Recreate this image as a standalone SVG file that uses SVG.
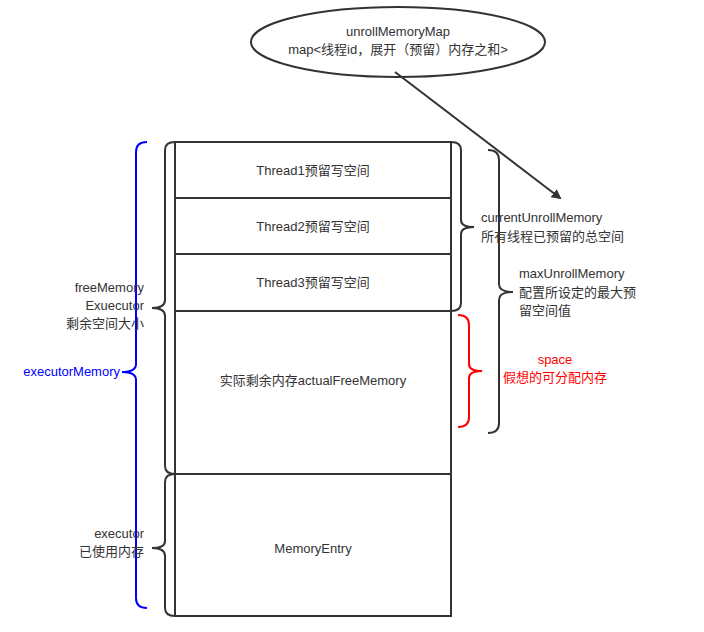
<svg xmlns="http://www.w3.org/2000/svg" width="704" height="632" viewBox="0 0 704 632">
<style>
text{font-family:"Liberation Sans","Noto Sans CJK SC",sans-serif;font-size:13px;fill:#333}
.box{fill:#fff;stroke:#333;stroke-width:2}
.br{fill:none;stroke:#333;stroke-width:2}
</style>
<defs>
<marker id="ah" markerWidth="10" markerHeight="10" refX="8" refY="5" orient="auto" markerUnits="userSpaceOnUse"><path d="M0,0 L10,5 L0,10 Z" fill="#333"/></marker>
<clipPath id="clp"><rect x="500" y="250" width="145" height="80"/></clipPath>
</defs>
<rect width="704" height="632" fill="#fff"/>
<g id="n1"><rect class="box" x="175" y="142" width="276" height="56"/><text x="313" y="175" text-anchor="middle">Thread1预留写空间</text></g>
<g id="n2"><rect class="box" x="175" y="198" width="276" height="56"/><text x="313" y="231" text-anchor="middle">Thread2预留写空间</text></g>
<g id="n3"><rect class="box" x="175" y="254" width="276" height="57"/><text x="313" y="287" text-anchor="middle">Thread3预留写空间</text></g>
<g id="n4"><rect class="box" x="175" y="311" width="276" height="163"/><text x="313" y="385" text-anchor="middle">实际剩余内存actualFreeMemory</text></g>
<g id="n5"><rect class="box" x="175" y="474" width="276" height="142"/><text x="313" y="553" text-anchor="middle">MemoryEntry</text></g>
<g id="ellipse"><ellipse cx="398" cy="42" rx="147" ry="35" fill="#fff" stroke="#333" stroke-width="2"/>
<text x="398" y="36" text-anchor="middle">unrollMemoryMap</text><text x="398" y="54" text-anchor="middle">map&lt;线程id，展开（预留）内存之和&gt;</text></g>
<g id="connectors">
<line x1="395" y1="72" x2="560" y2="198" stroke="#333" stroke-width="2" marker-end="url(#ah)"/>
</g>
<g id="braces">
<path class="br" d="M175,142 Q165,142 165,150 L165,300 Q165,308 152,308 Q165,308 165,316 L165,466 Q165,474 175,474"/>
<path class="br" d="M175,474 Q165,474 165,482 L165,541 Q165,548 152,548 Q165,548 165,556 L165,608 Q165,616 175,616"/>
<path d="M147,142 Q136,142 136,152 L136,364 Q136,372 122,372 Q136,372 136,380 L136,598 Q136,608 147,608" fill="none" stroke="#00f" stroke-width="2"/>
<path class="br" d="M451,142 Q461,142 461,150 L461,220 Q461,227 474,227 Q461,227 461,234 L461,303 Q461,311 451,311"/>
<path class="br" d="M488,150 Q499,150 499,160 L499,284 Q499,292 513,292 Q499,292 499,300 L499,423 Q499,433 488,433"/>
<path d="M458,315 Q469,315 469,325 L469,364 Q469,371 482,371 Q469,371 469,378 L469,417 Q469,427 458,427" fill="none" stroke="#f00" stroke-width="2"/>
</g>
<g id="labels">
<text x="144" y="292" text-anchor="end">freeMemory</text>
<text x="144" y="310" text-anchor="end">Exuecutor</text>
<text x="144" y="328" text-anchor="end">剩余空间大小</text>
<text x="120" y="376" text-anchor="end" style="fill:#00f">executorMemory</text>
<text x="144" y="538" text-anchor="end">executor</text>
<text x="144" y="556" text-anchor="end">已使用内存</text>
<text x="481" y="222">currentUnrollMemory</text>
<text x="481" y="241">所有线程已预留的总空间</text>
<g clip-path="url(#clp)"><text x="519" y="278">maxUnrollMemory</text><text x="519" y="297">配置所设定的最大预</text><text x="519" y="315">留空间值</text></g>
<text x="555" y="364" text-anchor="middle" style="fill:#f00">space</text>
<text x="555" y="382" text-anchor="middle" style="fill:#f00">假想的可分配内存</text>
</g>
</svg>
